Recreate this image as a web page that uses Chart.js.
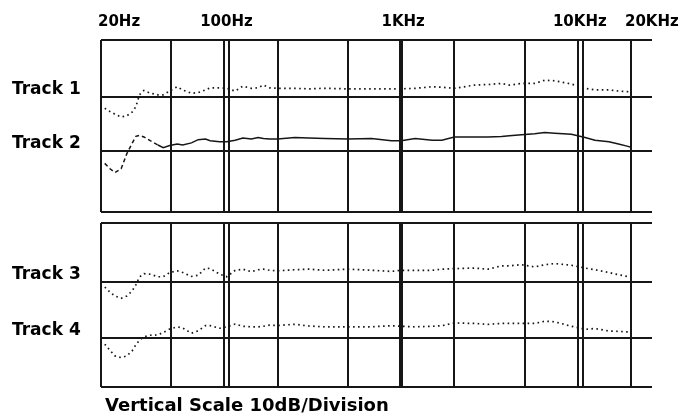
<!DOCTYPE html>
<html>
<head>
<meta charset="utf-8">
<script src="https://cdn.jsdelivr.net/npm/chart.js@4.4.1/dist/chart.umd.min.js"></script>
<style>
  html, body { margin: 0; padding: 0; background: #fff; }
  #wrap { position: relative; width: 690px; height: 417px; }
  #wrap canvas { position: absolute; left: 0; top: 0; }
</style>
</head>
<body>
<div id="wrap">
  <canvas id="upper" width="690" height="417"></canvas>
  <canvas id="lower" width="690" height="417"></canvas>
</div>
<script>
// frequencies (Hz) the traces were read at
const freqs = [21, 22.5, 24, 26, 28, 30, 31.5, 33, 35, 38,
  42, 45, 49, 54, 58, 65, 71, 78, 83, 94,
  103, 115, 127, 142, 155, 166, 180, 200, 250, 300,
  370, 500, 680, 880, 1000, 1200, 1500, 1700, 2000, 2600,
  3100, 3700, 4100, 4800, 5700, 6500, 7400, 9200, 11000, 12500,
  15000, 17000, 19000, 20000];

// dB relative to each track's reference line
const track1 = [-2.1, -2.7, -3.2, -3.7, -3.5, -2.8, -1.8, 0.4, 1.2, 0.7,
  0.4, 0.4, 1.1, 1.9, 1.3, 0.7, 0.8, 1.3, 1.7, 1.7,
  1.6, 1.1, 2.0, 1.6, 1.7, 2.2, 1.7, 1.6, 1.6, 1.5,
  1.6, 1.5, 1.5, 1.5, 1.5, 1.6, 1.9, 1.8, 1.6, 2.2,
  2.3, 2.5, 2.2, 2.5, 2.5, 3.1, 3.0, 2.4, 1.6, 1.3,
  1.3, 1.1, 1.0, 0.9];
const track2 = [-2.3, -3.3, -4.0, -3.3, -0.5, 1.4, 2.7, 2.9, 2.6, 1.9,
  1.1, 0.6, 1.0, 1.3, 1.1, 1.5, 2.1, 2.2, 1.9, 1.7,
  1.7, 2.0, 2.4, 2.2, 2.5, 2.3, 2.2, 2.2, 2.5, 2.4,
  2.3, 2.2, 2.3, 1.9, 1.9, 2.3, 2.0, 2.0, 2.6, 2.6,
  2.6, 2.7, 2.8, 3.0, 3.2, 3.4, 3.3, 3.1, 2.5, 2.0,
  1.7, 1.3, 0.9, 0.7];
const track3 = [-0.9, -1.8, -2.5, -2.9, -2.5, -1.6, -0.5, 0.9, 1.5, 1.4,
  0.95, 0.95, 1.7, 2.0, 1.7, 1.0, 1.2, 2.5, 2.4, 1.4,
  0.95, 2.1, 2.3, 1.85, 2.2, 2.3, 2.1, 2.0, 2.2, 2.3,
  2.1, 2.3, 2.1, 1.9, 2.1, 2.1, 2.1, 2.3, 2.4, 2.5,
  2.3, 2.9, 2.9, 3.1, 2.7, 3.1, 3.3, 3.0, 2.5, 2.2,
  1.7, 1.3, 1.0, 0.9];
const track4 = [-1.1, -2.2, -3.2, -3.5, -3.2, -2.3, -1.2, -0.4, 0.2, 0.5,
  0.55, 1.0, 1.6, 2.0, 1.8, 0.85, 1.3, 2.2, 2.2, 1.75,
  2.0, 2.5, 2.1, 2.0, 2.0, 2.1, 2.3, 2.25, 2.45, 2.15,
  2.0, 2.0, 2.0, 2.2, 2.1, 2.0, 2.1, 2.2, 2.7, 2.6,
  2.45, 2.6, 2.6, 2.6, 2.6, 3.0, 2.9, 2.1, 1.55, 1.7,
  1.25, 1.2, 1.1, 1.1];

// vertical grid (100Hz and 10KHz are printed as double lines)
const gridFreqs = [20, 50, 100, 106, 200, 500, 1000, 2000, 5000, 10000, 10650, 20000];
const labelFreqs = [20, 100, 1000, 10000, 20000];
const freqLabels = ['20Hz', '100Hz', '1KHz', '10KHz', '20KHz'];
const trackNames = ['Track 1', 'Track 2', 'Track 3', 'Track 4'];
const caption = 'Vertical Scale 10dB/Division';

const INK = '#161616';
const FONT = '"DejaVu Sans", sans-serif';

const textPlugin = {
  id: 'panelText',
  afterDraw(chart, args, opts) {
    const ctx = chart.ctx;
    const x = chart.scales.x, y = chart.scales.y;
    ctx.save();
    ctx.fillStyle = '#000';
    ctx.textBaseline = 'middle';
    // track names sit just above their reference line
    ctx.font = 'bold 17px ' + FONT;
    ctx.textAlign = 'left';
    opts.names.forEach((name, i) => {
      ctx.fillText(name, 12, y.getPixelForValue(-10 * i) - 7);
    });
    if (opts.freqLabels) {
      ctx.font = 'bold 15px ' + FONT;
      labelFreqs.forEach((f, i) => {
        const px = x.getPixelForValue(f);
        if (i === 0) { ctx.textAlign = 'left'; ctx.fillText(freqLabels[i], px - 3, chart.chartArea.top - 18); }
        else if (i === labelFreqs.length - 1) { ctx.textAlign = 'left'; ctx.fillText(freqLabels[i], px - 6, chart.chartArea.top - 18); }
        else { ctx.textAlign = 'center'; ctx.fillText(freqLabels[i], px + 2, chart.chartArea.top - 18); }
      });
    }
    if (opts.caption) {
      ctx.font = 'bold 18px ' + FONT;
      ctx.textAlign = 'left';
      ctx.fillText(caption, chart.chartArea.left + 4, chart.chartArea.bottom + 19);
    }
    ctx.restore();
  }
};

function panel(id, series, yMin, yMax, padding, textOpts) {
  return new Chart(document.getElementById(id), {
    type: 'line',
    data: {
      datasets: series.map(s => ({
        data: freqs.map((f, i) => ({ x: f, y: s.values[i] + s.offset })),
        borderColor: INK,
        borderWidth: s.solid ? 1.5 : 1.7,
        borderDash: s.solid ? [] : [1.6, 3.4],
        segment: s.solid ? { borderDash: c => (c.p1.parsed.x <= 42 ? [4, 3] : undefined) } : {},
        pointRadius: 0,
        tension: 0,
        fill: false
      }))
    },
    options: {
      responsive: false,
      animation: false,
      events: [],
      layout: { padding: padding, autoPadding: false },
      plugins: { legend: { display: false }, tooltip: { enabled: false }, panelText: textOpts },
      scales: {
        x: {
          type: 'logarithmic', min: 20, max: 26300,
          afterBuildTicks: axis => { axis.ticks = gridFreqs.map(v => ({ value: v })); },
          ticks: { display: false },
          border: { display: false },
          grid: { color: INK, drawTicks: false, lineWidth: c => (c.tick && c.tick.value === 1000 ? 4 : 2) }
        },
        y: {
          type: 'linear', min: yMin, max: yMax,
          afterBuildTicks: axis => { axis.ticks = [yMin, -10, 0, yMax].map(v => ({ value: v })); },
          ticks: { display: false },
          border: { display: false },
          grid: { color: INK, drawTicks: false, lineWidth: 2 }
        }
      }
    },
    plugins: [textPlugin]
  });
}

panel('upper', [
  { values: track1, offset: 0 },
  { values: track2, offset: -10, solid: true }
], -21.3, 10.55, { left: 101, top: 40, right: 38, bottom: 205 },
  { names: trackNames.slice(0, 2), freqLabels: true });

panel('lower', [
  { values: track3, offset: 0 },
  { values: track4, offset: -10 }
], -18.75, 10.55, { left: 101, top: 223, right: 38, bottom: 30 },
  { names: trackNames.slice(2, 4), caption: true });
</script>
</body>
</html>
